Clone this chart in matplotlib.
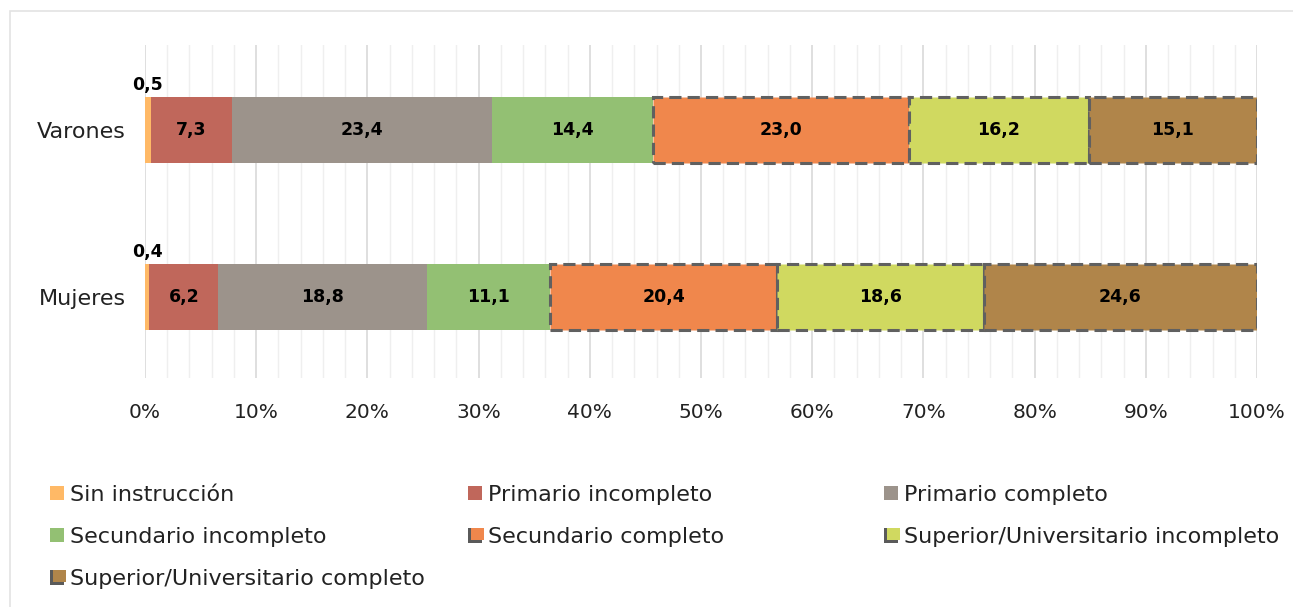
import matplotlib
matplotlib.use("Agg")
import matplotlib.pyplot as plt
from matplotlib.patches import Rectangle
from matplotlib.ticker import MultipleLocator, FuncFormatter

plt.rcParams['font.family'] = ['DejaVu Sans']

categories = ["Mujeres", "Varones"]
levels = ["Sin instrucción", "Primario incompleto", "Primario completo",
          "Secundario incompleto", "Secundario completo",
          "Superior/Universitario incompleto", "Superior/Universitario completo"]
mujeres = [0.4, 6.2, 18.8, 11.1, 20.4, 18.6, 24.6]
varones = [0.5, 7.3, 23.4, 14.4, 23.0, 16.2, 15.1]
value_labels_m = ["0,4", "6,2", "18,8", "11,1", "20,4", "18,6", "24,6"]
value_labels_v = ["0,5", "7,3", "23,4", "14,4", "23,0", "16,2", "15,1"]
colors = ["#FFB966", "#C0675B", "#9C938B", "#93C073", "#F0874C", "#D0D960", "#B0854A"]
dashed = [False, False, False, False, True, True, True]

W, H = 1293, 607
fig = plt.figure(figsize=(W/100, H/100), dpi=100)
fig.patches.append(Rectangle((10/W, -0.02), 1.0, 1 - 11/H + 0.02, transform=fig.transFigure,
                             fill=False, edgecolor="#e3e3e3", linewidth=1.2))
ax = fig.add_axes([145/W, 1 - 378/H, (1257-145)/W, (378-45)/H])

data = [mujeres, varones]
labels = [value_labels_m, value_labels_v]
for yi, (vals, labs) in enumerate(zip(data, labels)):
    tot = sum(vals)
    left = 0.0
    for i, v in enumerate(vals):
        w = v / tot * 100
        if dashed[i]:
            ax.barh(yi, w, left=left, height=0.4, color=colors[i], edgecolor="#606060",
                    linewidth=2.2, linestyle=(0, (4, 2)), zorder=3)
        else:
            ax.barh(yi, w, left=left, height=0.4, color=colors[i], edgecolor="none", zorder=2)
        if i == 0:
            ax.text(left + w / 2, yi + 0.215, labs[i], ha="center", va="bottom",
                    fontsize=12.5, fontweight="bold", color="black", zorder=5)
        else:
            ax.text(left + w / 2, yi, labs[i], ha="center", va="center",
                    fontsize=12.5, fontweight="bold", color="black", zorder=5)
        left += w

ax.set_xlim(0, 100)
ax.set_ylim(-0.485, 1.509)
ax.xaxis.set_major_locator(MultipleLocator(10))
ax.xaxis.set_minor_locator(MultipleLocator(2))
ax.xaxis.set_major_formatter(FuncFormatter(lambda x, p: f"{int(round(x))}%"))
ax.grid(axis="x", which="major", color="#d9d9d9", linewidth=1.2, zorder=0)
ax.grid(axis="x", which="minor", color="#efefef", linewidth=1.0, zorder=0)
ax.set_axisbelow(True)
ax.set_yticks([0, 1])
ax.set_yticklabels(categories)
ax.tick_params(axis="both", which="both", length=0, colors="#222222")
ax.tick_params(axis="x", labelsize=14.5, pad=18)
ax.tick_params(axis="y", labelsize=16, pad=14)
for s in ax.spines.values():
    s.set_visible(False)

# legend, placed entry by entry (row-major, 3 columns)
col_x = [50, 468, 884]
row_y = [493, 535, 577]
sq = 14
for k, name in enumerate(levels):
    r, c = divmod(k, 3)
    x0, yc = col_x[c], row_y[r]
    if dashed[k]:
        # shadowed square marker: dark gray square behind, coloured square offset up-right
        fig.patches.append(Rectangle((x0 / W, 1 - (yc + 8) / H), 14 / W, 15 / H,
                                     transform=fig.transFigure, facecolor="#5a5a5a",
                                     edgecolor="none"))
        fig.patches.append(Rectangle(((x0 + 3) / W, 1 - (yc + 5) / H), 13 / W, 12 / H,
                                     transform=fig.transFigure, facecolor=colors[k],
                                     edgecolor="none"))
    else:
        fig.patches.append(Rectangle((x0 / W, 1 - (yc + sq/2) / H), sq / W, sq / H,
                                     transform=fig.transFigure, facecolor=colors[k],
                                     edgecolor="none"))
    fig.text((x0 + sq + 6) / W, 1 - yc / H, name, ha="left", va="center_baseline",
             fontsize=16, color="#222222")

fig.savefig("out.png", dpi=100)
